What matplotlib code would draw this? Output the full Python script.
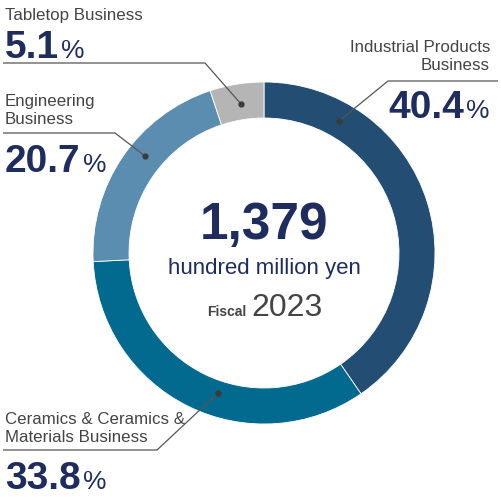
import matplotlib
matplotlib.use("Agg")
import matplotlib.pyplot as plt

categories = ["Industrial Products\nBusiness", "Ceramics & Ceramics &\nMaterials Business",
              "Engineering\nBusiness", "Tabletop Business"]
shares = [40.4, 33.8, 20.7, 5.1]
colors = ["#234d72", "#02698f", "#5b8db0", "#b5b5b5"]
total_value = "1,379"
unit = "hundred million yen"
year = "2023"

W, H = 501, 502
fig = plt.figure(figsize=(W / 100, H / 100), dpi=100)
ax = fig.add_axes([0, 0, 1, 1])
ax.set_xlim(0, W)
ax.set_ylim(0, H)
ax.set_aspect("equal")
ax.axis("off")

def Y(y):
    return H - y

cx, cy, R, wd = 264, Y(254), 171, 36
ax.pie(shares, colors=colors, startangle=90, counterclock=False, center=(cx, cy), radius=R,
       wedgeprops=dict(width=wd, edgecolor="white", linewidth=0.6), frame=True)
ax.set_xlim(0, W)
ax.set_ylim(0, H)
ax.axis("off")

navy = "#1f2c5e"
gray = "#444444"
lab_fs = 12.2
pct_fs = 28
pc_fs = 19
font = "Liberation Sans"

def pct(x, y, val, ha="left"):
    t = ax.text(x, Y(y), f"{val}", fontsize=pct_fs, fontweight="bold", color=navy,
                family=font, ha="left", va="baseline")
    fig.canvas.draw()
    bb = t.get_window_extent()
    if ha == "right":
        p = ax.text(x, Y(y), "%", fontsize=pc_fs, color=navy, family=font, ha="right", va="baseline")
        fig.canvas.draw()
        pw = p.get_window_extent().width
        t.set_x(x - pw - 2 - bb.width)
    else:
        ax.text(x + bb.width + 2, Y(y), "%", fontsize=pc_fs, color=navy, family=font, ha="left", va="baseline")

def leader(pts, dot):
    xs = [p[0] for p in pts]
    ys = [Y(p[1]) for p in pts]
    ax.plot(xs, ys, color="#555555", lw=0.9, solid_capstyle="butt")
    ax.plot([dot[0]], [Y(dot[1])], "o", color="#3a3a3a", ms=3.5)

# Tabletop
ax.text(5, Y(20), categories[3], fontsize=lab_fs, color=gray, family=font, va="baseline")
pct(5, 58, f"{shares[3]}")
leader([(3, 64), (205, 64), (241, 105)], (241, 105))

# Engineering
ax.text(5, Y(124), categories[2], fontsize=lab_fs, color=gray, family=font, va="baseline",
        linespacing=1.22)
leader([(3, 134), (115, 134), (145, 157)], (145, 157))
pct(5, 172, f"{shares[2]}")

# Industrial
ax.text(490, Y(70), categories[0], fontsize=lab_fs, color=gray, family=font, va="baseline",
        ha="right", multialignment="right", linespacing=1.22)
leader([(498, 82), (388, 82), (339, 122)], (339, 122))
pct(490, 118, f"{shares[0]}", ha="right")

# Ceramics
ax.text(5, Y(442), categories[1], fontsize=lab_fs, color=gray, family=font, va="baseline",
        linespacing=1.22)
leader([(3, 451), (157, 451), (218, 394)], (218, 394))
pct(5, 489, f"{shares[1]}")

# Center
ax.text(cx, Y(239), total_value, fontsize=37, fontweight="bold", color=navy, family=font,
        ha="center", va="baseline")
ax.text(cx, Y(274), unit, fontsize=16, color=navy, family=["Liberation Sans Narrow", font],
        ha="center", va="baseline")
ax.text(246, Y(316), "Fiscal", fontsize=10, fontweight="bold", color=gray, family=font,
        ha="right", va="baseline")
ax.text(251, Y(316), year, fontsize=23, color=gray, family=font, ha="left", va="baseline")

fig.savefig("out.png", dpi=100)
